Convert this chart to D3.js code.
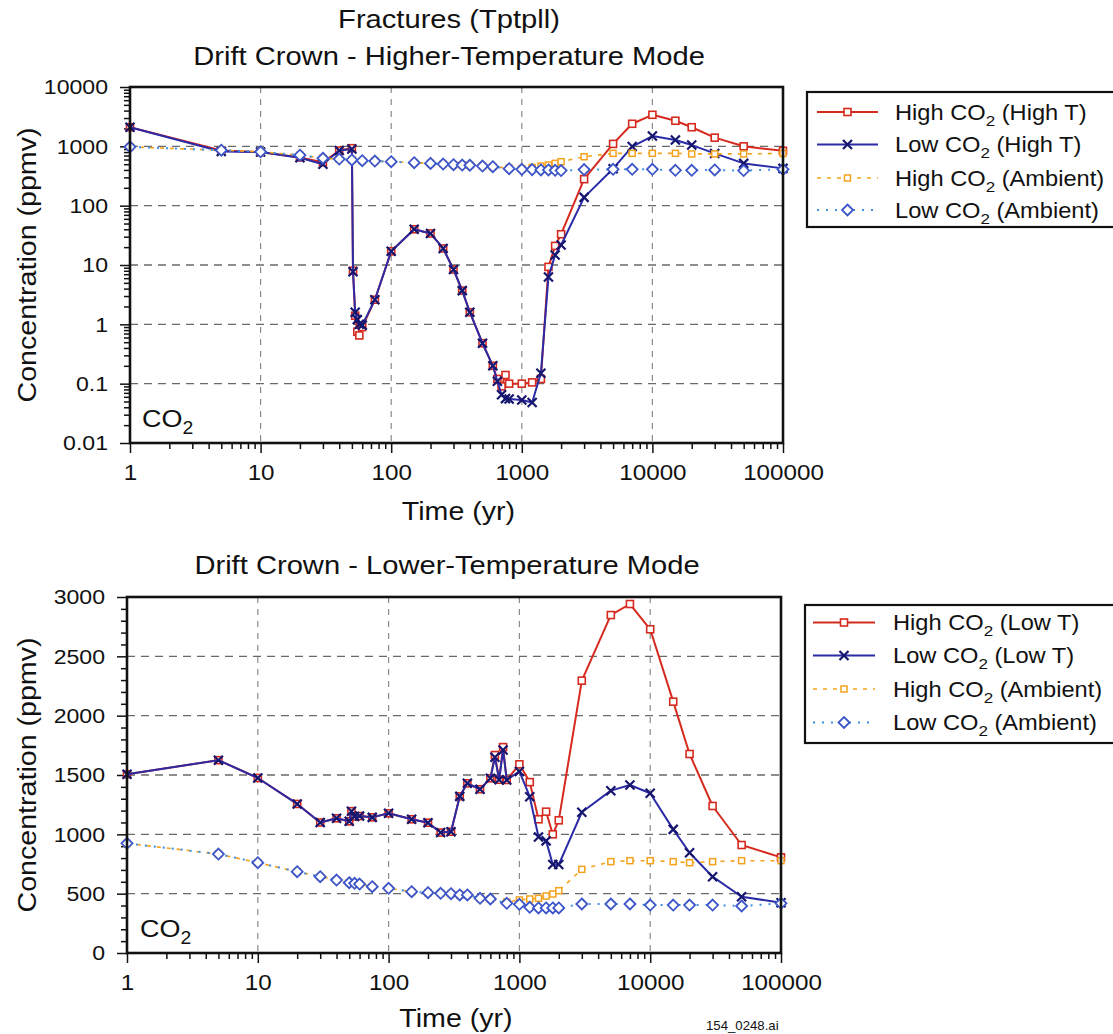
<!DOCTYPE html>
<html><head><meta charset="utf-8">
<script src="https://cdn.jsdelivr.net/npm/d3@7"></script>
<style>body{margin:0;background:#fff}svg{display:block}</style>
</head><body>
<script>
// ---------- DATA ----------
const xTickValues = [1, 10, 100, 1000, 10000, 100000];
const yTickTop = [0.01, 0.1, 1, 10, 100, 1000, 10000];
const yTickBottom = [0, 500, 1000, 1500, 2000, 2500, 3000];

// Top panel: Higher-Temperature Mode
const timeHighT = [1,5,10,20,30,40,50,51,53,55,57,60,75,100,150,200,250,300,350,400,500,600,650,700,750,800,1000,1200,1400,1600,1800,2000,3000,5000,7000,10000,15000,20000,30000,50000,100000];
const highCO2HighT = [2100,850,800,650,540,850,930,8,1.4,0.75,0.65,0.9,2.6,17,40,34,19,8.4,3.7,1.6,0.48,0.2,0.12,0.09,0.14,0.1,0.1,0.105,0.12,9.3,21,33,280,1100,2400,3400,2700,2100,1400,1000,840];
const lowCO2HighT  = [2100,820,800,640,500,850,900,7.7,1.6,1.2,1.0,0.97,2.6,17,40,34,19,8.4,3.7,1.6,0.48,0.2,0.11,0.065,0.056,0.055,0.053,0.048,0.15,6.3,14.7,21.7,138,420,990,1490,1280,1050,760,516,425];
const timeAmbTop = [1,5,10,20,30,40,50,60,75,100,150,200,250,300,350,400,500,600,800,1000,1200,1400,1600,1800,2000,3000,5000,7000,10000,15000,20000,30000,50000,100000];
const highAmbTop = [980,860,810,710,630,610,590,573,565,551,530,516,503,490,484,480,465,453,430,420,440,465,484,516,551,668,762,762,762,762,745,745,745,760];
const lowAmbTop  = [980,860,810,710,630,610,590,573,565,551,530,516,503,490,484,480,465,453,420,409,405,400,400,395,390,405,410,410,410,395,395,400,390,409];

// Bottom panel: Lower-Temperature Mode
const timeLowT = [1,5,10,20,30,40,50,52,55,60,75,100,150,200,250,300,350,400,500,600,650,700,750,800,1000,1200,1400,1600,1800,2000,3000,5000,7000,10000,15000,20000,30000,50000,100000];
const highCO2LowT = [1506,1625,1475,1256,1100,1135,1110,1195,1150,1154,1143,1177,1127,1098,1015,1022,1320,1430,1380,1472,1668,1460,1735,1458,1590,1440,1127,1191,1000,1118,2295,2848,2941,2728,2118,1677,1239,910,806];
const lowCO2LowT  = [1506,1625,1475,1256,1100,1135,1110,1195,1150,1154,1143,1177,1127,1098,1015,1022,1320,1430,1380,1472,1650,1460,1710,1458,1530,1317,978,945,745,745,1186,1368,1416,1346,1042,845,643,474,424];
const timeAmbBottom = [1,5,10,20,30,40,50,55,60,75,100,150,200,250,300,350,400,500,600,800,1000,1200,1400,1600,1800,2000,3000,5000,7000,10000,15000,20000,30000,50000,100000];
const highAmbBottom = [924,834,761,685,643,615,592,587,581,559,545,517,508,503,500,489,489,461,455,430,447,455,461,480,497,525,705,770,778,778,770,761,770,778,778];
const lowAmbBottom  = [924,834,761,685,643,615,592,587,581,559,545,517,508,503,500,489,489,461,455,419,410,385,380,380,380,380,413,413,413,404,404,404,404,396,419];

// ---------- STYLE ----------
const FONT = "'Liberation Sans', Arial, Helvetica, sans-serif";
const SX = 1.1;
const C_RED = "#d62a1f", C_BLUE = "#2b2ba6", C_XMARK = "#16166e", C_ORANGE = "#f4a21c", C_DIA = "#3c55c8", C_DIALINE = "#3b8fe8";

const W = 1113, H = 1034;
const svg = d3.select("body").append("svg").attr("width", W).attr("height", H);
svg.append("rect").attr("width", W).attr("height", H).attr("fill", "#fff");

function addText(x, y, parts, size, anchor, rotate) {
  const g = svg.append("g").attr("transform", `translate(${x},${y})${rotate ? ` rotate(${rotate})` : ""} scale(${SX},1)`);
  const t = g.append("text").attr("text-anchor", anchor || "start").attr("font-family", FONT)
    .attr("font-size", size).attr("fill", "#111");
  let shifted = false;
  parts.forEach(p => {
    const isSub = Array.isArray(p);
    const s = isSub ? p[0] : p;
    const ts = t.append("tspan").text(s);
    if (isSub) { ts.attr("font-size", size * 0.72).attr("dy", size * 0.3); shifted = true; }
    else if (shifted) { ts.attr("dy", -size * 0.3); shifted = false; }
  });
  return g;
}

function marker(g, type, x, y) {
  if (type === "sq") {
    g.append("rect").attr("x", x - 3.5).attr("y", y - 3.5).attr("width", 7).attr("height", 7)
      .attr("fill", "#fff").attr("stroke", C_RED).attr("stroke-width", 1.6);
  } else if (type === "x") {
    g.append("path").attr("d", `M${x-4.5},${y-4.5}L${x+4.5},${y+4.5}M${x-4.5},${y+4.5}L${x+4.5},${y-4.5}`)
      .attr("stroke", C_XMARK).attr("stroke-width", 2.2).attr("fill", "none");
  } else if (type === "osq") {
    g.append("rect").attr("x", x - 3).attr("y", y - 3).attr("width", 6).attr("height", 6)
      .attr("fill", "#fff").attr("stroke", C_ORANGE).attr("stroke-width", 1.5);
  } else if (type === "dia") {
    g.append("path").attr("d", `M${x},${y-5.5}L${x+5.5},${y}L${x},${y+5.5}L${x-5.5},${y}Z`)
      .attr("fill", "#fff").attr("stroke", C_DIA).attr("stroke-width", 1.8);
  }
}

const seriesStyle = {
  red:    { color: C_RED,     width: 2,   dash: null,  marker: "sq" },
  blue:   { color: C_BLUE,    width: 2,   dash: null,  marker: "x" },
  orange: { color: C_ORANGE,  width: 1.6, dash: "4,6", marker: "osq" },
  dia:    { color: C_DIALINE, width: 2,   dash: "2,7", marker: "dia" }
};

function panel(cfg) {
  const { x, y, yTicks, minorY, fmtY, series, title, legend, legendBox, co2, xLabelY } = cfg;
  const [x0, x1] = x.range();
  const [y0, y1] = y.range(); // y0 bottom, y1 top
  const g = svg.append("g");

  // grid
  g.selectAll(".hg").data(yTicks.filter(v => v !== yTicks[0] && v !== yTicks[yTicks.length - 1]))
    .join("line").attr("x1", x0).attr("x2", x1).attr("y1", d => y(d)).attr("y2", d => y(d))
    .attr("stroke", "#6a6a6a").attr("stroke-width", 1.3).attr("stroke-dasharray", "8,6");
  g.selectAll(".vg").data(xTickValues.slice(1, -1))
    .join("line").attr("x1", d => x(d)).attr("x2", d => x(d)).attr("y1", y1).attr("y2", y0)
    .attr("stroke", "#8a8a8a").attr("stroke-width", 1.2).attr("stroke-dasharray", "6,6");

  // axes
  const minorX = [];
  for (let d = 1; d < 100000; d *= 10) for (let k = 2; k <= 9; k++) minorX.push(d * k);
  const ax = g.append("g").attr("transform", `translate(0,${y0})`)
    .call(d3.axisBottom(x).tickValues(xTickValues).tickSize(10).tickPadding(11).tickFormat(d3.format("d")));
  g.append("g").attr("transform", `translate(0,${y0})`)
    .call(d3.axisBottom(x).tickValues(minorX).tickSize(6).tickFormat(""));
  const ay = g.append("g").attr("transform", `translate(${x0},0)`)
    .call(d3.axisLeft(y).tickValues(yTicks).tickSize(10).tickPadding(10).tickFormat(fmtY));
  g.append("g").attr("transform", `translate(${x0},0)`)
    .call(d3.axisLeft(y).tickValues(minorY).tickSize(6).tickFormat(""));
  g.selectAll(".domain").remove();
  g.selectAll(".tick line").attr("stroke", "#111").attr("stroke-width", 1.5);
  ax.selectAll("text").attr("font-family", FONT).attr("font-size", 22)
    .attr("fill", "#111").attr("transform", `scale(${SX},1)`);
  ay.selectAll("text").attr("font-family", FONT).attr("font-size", 21)
    .attr("fill", "#111").attr("transform", `scale(${SX},1)`);

  // series
  series.forEach(s => {
    const st = seriesStyle[s.style];
    const pts = s.t.map((t, i) => [x(t), y(s.v[i])]);
    g.append("path").attr("d", d3.line()(pts)).attr("fill", "none").attr("stroke", st.color)
      .attr("stroke-width", st.width).attr("stroke-dasharray", st.dash).attr("stroke-linejoin", "round");
    const mg = g.append("g");
    pts.forEach(p => marker(mg, st.marker, p[0], p[1]));
  });

  // frame
  g.append("rect").attr("x", x0).attr("y", y1).attr("width", x1 - x0).attr("height", y0 - y1)
    .attr("fill", "none").attr("stroke", "#111").attr("stroke-width", 2.6);

  // labels
  title.forEach(t => addText(t.x, t.y, [t.text], 26.5, "middle"));
  addText((x0 + x1) / 2 + 2, xLabelY, ["Time (yr)"], 26, "middle");
  addText(36, (y0 + y1) / 2, ["Concentration (ppmv)"], 26, "middle", -90);
  addText(co2.x, co2.y, ["CO", ["2"]], 24.5, "start");

  // legend
  const lb = legendBox;
  svg.append("rect").attr("x", lb.x).attr("y", lb.y).attr("width", lb.w).attr("height", lb.h)
    .attr("fill", "#fff").attr("stroke", "#111").attr("stroke-width", 2.2);
  legend.forEach((L, i) => {
    const st = seriesStyle[L.style];
    const cy = lb.rows[i];
    svg.append("line").attr("x1", lb.sx0).attr("x2", lb.sx1).attr("y1", cy).attr("y2", cy)
      .attr("stroke", st.color).attr("stroke-width", st.width).attr("stroke-dasharray", st.dash);
    marker(svg, st.marker, (lb.sx0 + lb.sx1) / 2, cy);
    addText(lb.tx, cy + 7.5, L.parts, 21.5, "start");
  });
}

// ---------- TOP ----------
const xTop = d3.scaleLog().domain([1, 100000]).range([130, 783]);
const yTop = d3.scaleLog().domain([0.01, 10000]).range([443, 87]);
const minorTop = [];
for (let d = 0.01; d < 10000; d *= 10) for (let k = 2; k <= 9; k++) minorTop.push(+(d * k).toPrecision(3));

panel({
  x: xTop, y: yTop, yTicks: yTickTop, minorY: minorTop,
  fmtY: d => String(d),
  series: [
    { t: timeHighT, v: highCO2HighT, style: "red" },
    { t: timeHighT, v: lowCO2HighT, style: "blue" },
    { t: timeAmbTop, v: highAmbTop, style: "orange" },
    { t: timeAmbTop, v: lowAmbTop, style: "dia" }
  ],
  title: [{ x: 449, y: 28, text: "Fractures (Tptpll)" }, { x: 449, y: 65, text: "Drift Crown - Higher-Temperature Mode" }],
  legend: [
    { style: "red", parts: ["High CO", ["2"], " (High T)"] },
    { style: "blue", parts: ["Low CO", ["2"], " (High T)"] },
    { style: "orange", parts: ["High CO", ["2"], " (Ambient)"] },
    { style: "dia", parts: ["Low CO", ["2"], " (Ambient)"] }
  ],
  legendBox: { x: 807, y: 92, w: 310, h: 135, rows: [112, 144.5, 178, 210], sx0: 817, sx1: 878, tx: 895 },
  co2: { x: 142, y: 427 },
  xLabelY: 520
});

// ---------- BOTTOM ----------
const xBot = d3.scaleLog().domain([1, 100000]).range([127, 781]);
const yBot = d3.scaleLinear().domain([0, 3000]).range([953, 597]);
const minorBot = d3.range(100, 3000, 100).filter(v => v % 500 !== 0);

panel({
  x: xBot, y: yBot, yTicks: yTickBottom, minorY: minorBot,
  fmtY: d => String(d),
  series: [
    { t: timeLowT, v: highCO2LowT, style: "red" },
    { t: timeLowT, v: lowCO2LowT, style: "blue" },
    { t: timeAmbBottom, v: highAmbBottom, style: "orange" },
    { t: timeAmbBottom, v: lowAmbBottom, style: "dia" }
  ],
  title: [{ x: 447, y: 574, text: "Drift Crown - Lower-Temperature Mode" }],
  legend: [
    { style: "red", parts: ["High CO", ["2"], " (Low T)"] },
    { style: "blue", parts: ["Low CO", ["2"], " (Low T)"] },
    { style: "orange", parts: ["High CO", ["2"], " (Ambient)"] },
    { style: "dia", parts: ["Low CO", ["2"], " (Ambient)"] }
  ],
  legendBox: { x: 805, y: 605, w: 312, h: 138, rows: [622.5, 655.5, 689, 722.5], sx0: 813, sx1: 875, tx: 893 },
  co2: { x: 140, y: 937 },
  xLabelY: 1027
});

addText(706, 1030, ["154_0248.ai"], 12, "start");
</script>
</body></html>
